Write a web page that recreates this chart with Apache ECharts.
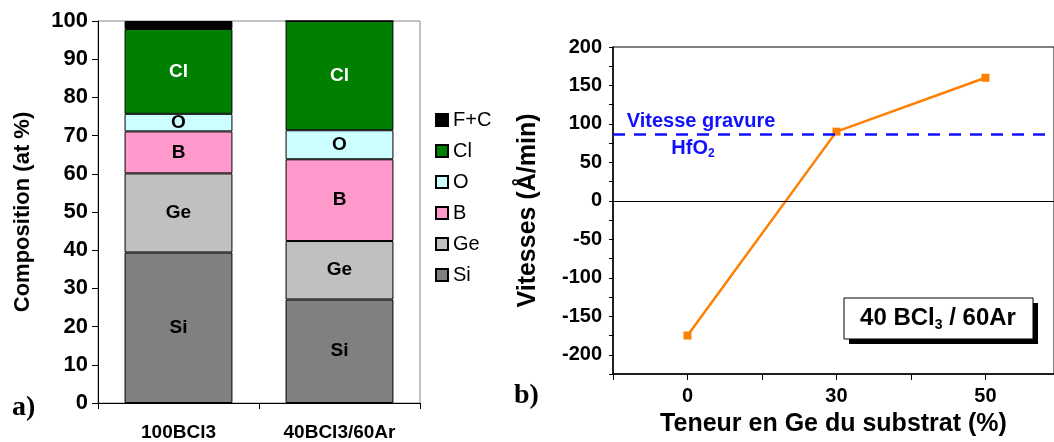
<!DOCTYPE html>
<html><head><meta charset="utf-8">
<script src="https://cdn.jsdelivr.net/npm/echarts@6/dist/echarts.min.js"></script>
<style>html,body{margin:0;padding:0;background:#fff}#c{width:1054px;height:442px}</style>
</head><body><div id="c"></div>
<script>
// ---- data: (a) composition ----
const categories = ['100BCl3', '40BCl3/60Ar'];
const si = [39.4, 27.1];
const ge = [20.7, 15.3];
const bor = [11.0, 21.4];
const oxy = [4.6, 7.6];
const cl = [22.2, 28.6];
const fc = [2.1, 0];
const legendOrder = ['F+C', 'Cl', 'O', 'B', 'Ge', 'Si'];
// ---- data: (b) etch rate ----
const geContent = ['0', '30', '50'];
const rates = [-175, 90, 160];
const hfo2Rate = 86;
const rateTicks = [-200, -150, -100, -50, 0, 50, 100, 150, 200];
const xTickPos = [-0.5, 0, 0.5, 1, 1.5, 2];

const FONT = '"Liberation Sans", Arial, sans-serif';
const SERIF = '"Liberation Serif", "Times New Roman", serif';

function barSeries(name, data, color, labelColor, showLabel) {
  return {
    type: 'bar', name: name, data: data, stack: 'comp', xAxisIndex: 0, yAxisIndex: 0,
    barWidth: '67%',
    itemStyle: { color: color, borderColor: '#000', borderWidth: 1 },
    label: {
      show: showLabel, position: 'inside',
      formatter: function (p) { return p.value > 0 ? name : ''; },
      color: labelColor, fontWeight: 'bold', fontSize: 19, fontFamily: FONT
    },
    emphasis: { disabled: true }
  };
}

const chart = echarts.init(document.getElementById('c'), null, { renderer: 'canvas' });
chart.setOption({
  animation: false,
  backgroundColor: '#fff',
  textStyle: { fontFamily: FONT },
  grid: [
    { left: 98, top: 21, width: 322, height: 382, show: true, borderColor: '#888', borderWidth: 1, backgroundColor: 'transparent' },
    { left: 613, top: 47, width: 444, height: 331, show: true, borderColor: '#000', borderWidth: 1, backgroundColor: 'transparent' }
  ],
  legend: {
    data: legendOrder, orient: 'vertical', left: 430, top: 105,
    icon: 'rect', itemWidth: 12, itemHeight: 12, itemGap: 11,
    textStyle: { fontSize: 20, color: '#000', fontFamily: FONT },
    selectedMode: false
  },
  xAxis: [
    {
      type: 'category', gridIndex: 0, data: categories,
      axisLine: { show: true, lineStyle: { color: '#000', width: 1 } },
      axisTick: { show: true, length: 6, lineStyle: { color: '#000' } },
      axisLabel: { color: '#000', fontWeight: 'bold', fontSize: 19, margin: 20, fontFamily: FONT },
      splitLine: { show: false }
    },
    {
      type: 'value', gridIndex: 1, min: -0.5, max: 2.46,
      axisLine: { show: true, onZero: false, lineStyle: { color: '#000', width: 1.5 } },
      axisTick: { show: true, customValues: xTickPos, length: 6, lineStyle: { color: '#000' } },
      axisLabel: {
        customValues: [0, 1, 2], color: '#000', fontWeight: 'bold', fontSize: 20, margin: 12, fontFamily: FONT,
        formatter: function (v) { return geContent[Math.round(v)]; }
      },
      splitLine: { show: false },
      name: 'Teneur en Ge du substrat (%)', nameLocation: 'middle', nameGap: 38,
      nameTextStyle: { color: '#000', fontWeight: 'bold', fontSize: 25, fontFamily: FONT }
    }
  ],
  yAxis: [
    {
      type: 'value', gridIndex: 0, min: 0, max: 100, interval: 10,
      axisLine: { show: true, lineStyle: { color: '#000', width: 1 } },
      axisTick: { show: true, length: 6, lineStyle: { color: '#000' } },
      axisLabel: { color: '#000', fontWeight: 'bold', fontSize: 22, margin: 10, fontFamily: FONT },
      splitLine: { show: false },
      name: 'Composition (at %)', nameLocation: 'middle', nameGap: 64,
      nameTextStyle: { color: '#000', fontWeight: 'bold', fontSize: 22, fontFamily: FONT }
    },
    {
      type: 'value', gridIndex: 1, min: -225, max: 200, interval: 25,
      axisLine: { show: true, onZero: false, lineStyle: { color: '#000', width: 1.5 } },
      axisTick: { show: true, length: 4, lineStyle: { color: '#000' } },
      axisLabel: { customValues: rateTicks, color: '#000', fontWeight: 'bold', fontSize: 20, margin: 11, fontFamily: FONT },
      splitLine: { show: false },
      name: 'Vitesses (Å/min)', nameLocation: 'middle', nameGap: 72,
      nameTextStyle: { color: '#000', fontWeight: 'bold', fontSize: 25, fontFamily: FONT }
    },
    {
      type: 'value', gridIndex: 1, min: -225, max: 200, interval: 25,
      axisLine: { show: false, onZero: false },
      axisTick: { show: true, customValues: rateTicks, length: 8, lineStyle: { color: '#000' } },
      axisLabel: { show: false },
      splitLine: { show: false }
    }
  ],
  series: [
    barSeries('Si', si, '#808080', '#000', true),
    barSeries('Ge', ge, '#C0C0C0', '#000', true),
    barSeries('B', bor, '#FF99CC', '#000', true),
    barSeries('O', oxy, '#CCFFFF', '#000', true),
    barSeries('Cl', cl, '#008000', '#fff', true),
    barSeries('F+C', fc, '#000000', '#fff', false),
    {
      type: 'line', name: 'rate', xAxisIndex: 1, yAxisIndex: 1,
      data: rates.map(function (v, i) { return [i, v]; }),
      symbol: 'rect', symbolSize: 8,
      itemStyle: { color: '#FF8000' },
      lineStyle: { color: '#FF8000', width: 2.5 },
      emphasis: { disabled: true },
      markLine: {
        silent: true, symbol: 'none', animation: false,
        label: { show: false },
        data: [
          { yAxis: 0, lineStyle: { color: '#000', width: 1.2, type: 'solid' } },
          { yAxis: hfo2Rate, lineStyle: { color: '#1010FF', width: 2.5, type: [12, 9] } }
        ]
      }
    }
  ],
  graphic: [
    { type: 'text', left: 12, top: 394, style: { text: 'a)', font: 'bold 28px ' + SERIF, fill: '#000' } },
    { type: 'text', left: 514, top: 382, style: { text: 'b)', font: 'bold 28px ' + SERIF, fill: '#000' } },
    { type: 'text', x: 701, y: 121, style: { text: 'Vitesse gravure', font: 'bold 20px ' + FONT, fill: '#1010FF', align: 'center', verticalAlign: 'middle' } },
    { type: 'text', x: 693, y: 148, style: {
        text: '{h|HfO}{s|2}', align: 'center', verticalAlign: 'middle',
        rich: {
          h: { font: 'bold 20px ' + FONT, fill: '#1010FF', color: '#1010FF' },
          s: { font: 'bold 12px ' + FONT, fill: '#1010FF', color: '#1010FF', padding: [12, 0, 0, 0] }
        }
      } },
    { type: 'rect', shape: { x: 849, y: 303, width: 189, height: 41 }, style: { fill: '#000' } },
    { type: 'rect', shape: { x: 844, y: 298, width: 189, height: 41 }, style: { fill: '#fff', stroke: '#000', lineWidth: 1 } },
    { type: 'text', x: 938, y: 318, style: {
        text: '{a|40 BCl}{s|3}{a| / 60Ar}', align: 'center', verticalAlign: 'middle',
        rich: {
          a: { font: 'bold 24px ' + FONT, color: '#000' },
          s: { font: 'bold 14px ' + FONT, color: '#000', padding: [14, 0, 0, 0] }
        }
      } }
  ]
});
</script>
</body></html>
